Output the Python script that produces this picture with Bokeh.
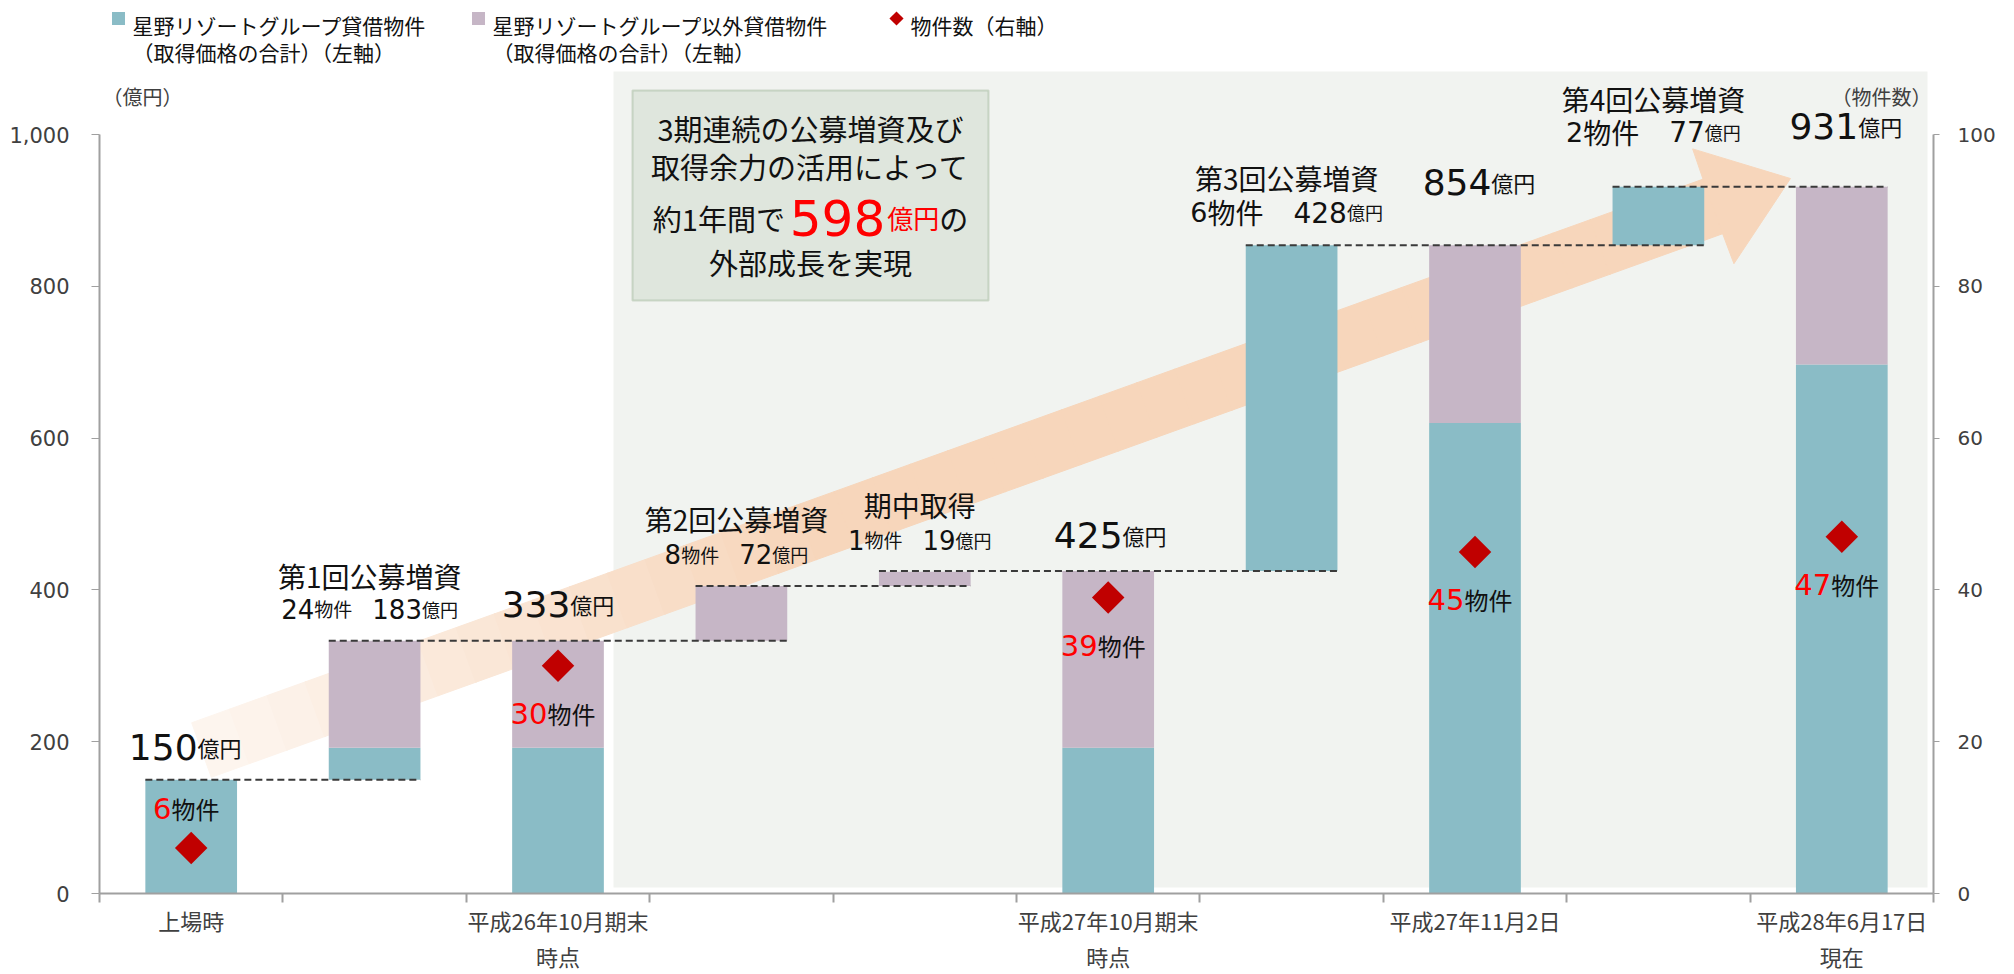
import math
from bokeh.plotting import figure
from bokeh.models import (Range1d, LinearAxis, FixedTicker, BoxAnnotation,
                          ColumnDataSource, NumeralTickFormatter)
from bokeh.embed import file_html
from bokeh.resources import INLINE

# ---------------- data ----------------
slot_label_line1 = ["上場時", "", "平成26年10月期末", "", "", "平成27年10月期末",
                    "", "平成27年11月2日", "", "平成28年6月17日"]
slot_label_line2 = ["", "", "時点", "", "", "時点", "", "", "", "現在"]
base_value = [0, 150, 0, 333, 405, 0, 425, 0, 854, 0]          # floating bar bottoms (億円)
hoshino_value = [150, 42, 192, 0, 0, 192, 429, 620, 77, 697]   # 星野リゾートグループ貸借物件
other_value = [0, 141, 141, 72, 19, 233, 0, 234, 0, 234]       # 星野リゾートグループ以外貸借物件
property_count = [6, None, 30, None, None, 39, None, 45, None, 47]  # 物件数 (右軸)
total_label = [150, None, 333, None, None, 425, None, 854, None, 931]

step_slot = [1, 3, 4, 6, 8]
step_title = ["第1回公募増資", "第2回公募増資", "期中取得", "第3回公募増資", "第4回公募増資"]
step_count = [24, 8, 1, 6, 2]
step_amount = [183, 72, 19, 428, 77]

connector_level = [150, 333, 405, 425, 854, 931]
connector_from = [0, 1, 3, 4, 6, 8]
connector_to = [1, 3, 4, 6, 8, 9]

left_ticks = [0, 200, 400, 600, 800, 1000]
right_ticks = [0, 20, 40, 60, 80, 100]
left_unit = "（億円）"
right_unit = "（物件数）"

legend_line1 = ["星野リゾートグループ貸借物件", "星野リゾートグループ以外貸借物件", "物件数（右軸）"]
legend_line2 = ["（取得価格の合計）（左軸）", "（取得価格の合計）（左軸）", ""]

# ---------------- layout / style ----------------
W, H = 2014, 974
BL, BR, BT, BB = 99, 81, 0, 81
FW, FH = W - BL - BR, H - BT - BB
LEFT_MAX, RIGHT_MAX = 1000, 100
NSLOT = len(slot_label_line1)
PXX = FW / NSLOT
TOP_TICK_PAGE_Y = 134
PXY = ((FH + BT) - TOP_TICK_PAGE_Y) / LEFT_MAX
Y_END = FH / PXY
CNT = LEFT_MAX / RIGHT_MAX
BAR_W = 0.5

TEAL = "#8ABCC6"
MAUVE = "#C6B6C6"
RED_MARK = "#C00000"
RED_TEXT = "#FF0000"
BLACK = "#111111"
AXIS_C = "#A0A0A0"
TICK_TXT = "#404040"
PEACH = (247, 214, 187)
CJK = "Noto Sans CJK JP"
LAT = "DejaVu Sans"


def page_to_data(px, py):
    return (px - BL) / PXX - 0.5, (FH - (py - BT)) / PXY


def text_width(t, font, size):
    w = 0.0
    for ch in t:
        if ch.isdigit():
            w += (0.636 if font == LAT else 0.55) * size
        elif ch in ",.":
            w += 0.32 * size
        elif ch == " ":
            w += 0.3 * size
        else:
            w += size
    return w


T = dict(x=[], y=[], text=[], font=[], size=[], color=[])


def put(x, y, t, font, size, color):
    T["x"].append(x); T["y"].append(y); T["text"].append(t)
    T["font"].append(font); T["size"].append(f"{size}px"); T["color"].append(color)


def add_run(xc, y, segs, dx_px=0.0, dy_px=0.0):
    widths = [text_width(s[0], s[1], s[2]) for s in segs]
    gaps = [s[4] if len(s) > 4 else 0 for s in segs]
    total = sum(widths) + sum(gaps[:-1])
    left = dx_px - total / 2
    for s, w, g in zip(segs, widths, gaps):
        put(xc + left / PXX, y + dy_px / PXY, s[0], s[1], s[2], s[3])
        left += w + g


p = figure(width=W, height=H, x_range=Range1d(-0.5, NSLOT - 0.5), y_range=Range1d(0, Y_END),
           output_backend="svg", toolbar_location=None,
           min_border_left=BL, min_border_right=BR, min_border_top=BT, min_border_bottom=BB,
           outline_line_color=None, background_fill_color="white", border_fill_color="white")
p.extra_y_ranges = {"cnt": Range1d(0, Y_END / CNT)}
p.xgrid.visible = False
p.ygrid.visible = False

# background panel and message box (decoration)
pl, pt_ = page_to_data(613, 71)
pr, pb = page_to_data(1927, FH + BT - 6)
p.add_layout(BoxAnnotation(left=pl, right=pr, top=pt_, bottom=pb, fill_color="#F1F3F0",
                           fill_alpha=1, line_color=None, level="underlay"))
bl_, bt_ = page_to_data(632, 90)
br_, bb_ = page_to_data(988, 300)
p.add_layout(BoxAnnotation(left=bl_, right=br_, top=bt_, bottom=bb_, fill_color="#DFE6DD",
                           fill_alpha=1, line_color="#7C9A70", line_width=2, level="underlay"))

# growth arrow (decoration)
ARROW_TAIL = (0.056, 189.0)
ARROW_TIP = (8.72, 942.0)
HALF, HEAD_LEN, HEAD_HALF = 29.0, 82.0, 61.0
tx, ty = ARROW_TAIL
vx, vy = (ARROW_TIP[0] - tx) * PXX, (ARROW_TIP[1] - ty) * PXY
L = math.hypot(vx, vy)
ux, uy = vx / L, vy / L
nx, ny = -uy, ux


def apt(a, b):
    return tx + (a * ux + b * nx) / PXX, ty + (a * uy + b * ny) / PXY


LS = L - HEAD_LEN
N = 40
xs, ys, cols = [], [], []
for i in range(N):
    a0 = LS * i / N
    a1 = min(LS, LS * (i + 1) / N + 0.8)
    t = (i + 0.5) / N
    al = min(1.0, 0.22 + 0.78 * t / 0.4)
    c = tuple(int(round(255 - al * (255 - k))) for k in PEACH)
    pts = [apt(a0, HALF), apt(a1, HALF), apt(a1, -HALF), apt(a0, -HALF)]
    xs.append([q[0] for q in pts]); ys.append([q[1] for q in pts])
    cols.append("#%02x%02x%02x" % c)
p.patches(xs=xs, ys=ys, fill_color=cols, line_color=cols, line_width=1)
head = [apt(LS - 0.5, HALF), apt(LS, HEAD_HALF), apt(L, 0), apt(LS, -HEAD_HALF), apt(LS - 0.5, -HALF)]
hc = "#%02x%02x%02x" % PEACH
p.patch(x=[q[0] for q in head], y=[q[1] for q in head], fill_color=hc, line_color=hc, line_width=1)

# stacked / floating bars
h_top = [b + h for b, h in zip(base_value, hoshino_value)]
o_top = [t + o for t, o in zip(h_top, other_value)]
src = ColumnDataSource(dict(x=list(range(NSLOT)), b=base_value, h_top=h_top, o_top=o_top))
p.vbar(x="x", width=BAR_W, bottom="b", top="h_top", fill_color=TEAL, line_color=None, source=src)
p.vbar(x="x", width=BAR_W, bottom="h_top", top="o_top", fill_color=MAUVE, line_color=None, source=src)

# dashed connectors
p.segment(x0=[f - BAR_W / 2 for f in connector_from], x1=[t + BAR_W / 2 for t in connector_to],
          y0=connector_level, y1=connector_level, line_color="#3A3A3A", line_width=2, line_dash="7 4")

# property counts (right axis)
cx = [i for i, c in enumerate(property_count) if c is not None]
cy = [c for c in property_count if c is not None]
p.scatter(x=cx, y=cy, y_range_name="cnt", marker="square", angle=math.pi / 4, size=23,
          fill_color=RED_MARK, line_color=None)

# ---------------- texts ----------------
total_dx = [-6, 0, 2, 4, 4]
total_lift = [33, 37, 36, 63, 61]
k = 0
for i, v in enumerate(total_label):
    if v is None:
        continue
    add_run(i, v, [(str(v), LAT, 36, BLACK), ("億円", CJK, 22, BLACK)], dx_px=total_dx[k], dy_px=total_lift[k])
    k += 1

count_lift = [39, -48, -48, -48, -48]
k = 0
for i, c in enumerate(property_count):
    if c is None:
        continue
    add_run(i, c * CNT, [(str(c), LAT, 29, RED_TEXT), ("物件", CJK, 24, BLACK)], dx_px=-5, dy_px=count_lift[k])
    k += 1

title_lift = [65, 67, 67, 67, 88]
detail_lift = [32, 32, 32, 33, 55]
big_detail = [False, False, False, True, True]
for k, s in enumerate(step_slot):
    top = o_top[s]
    add_run(s, top, [(step_title[k], CJK, 28, BLACK)], dx_px=-5, dy_px=title_lift[k])
    if big_detail[k]:
        segs = [(str(step_count[k]), LAT, 27, BLACK, 0), ("物件", CJK, 28, BLACK, 30),
                (str(step_amount[k]), LAT, 28, BLACK, 0), ("億円", CJK, 18, BLACK)]
    else:
        segs = [(str(step_count[k]), LAT, 26, BLACK, 0), ("物件", CJK, 19, BLACK, 20),
                (str(step_amount[k]), LAT, 26, BLACK, 0), ("億円", CJK, 18, BLACK)]
    add_run(s, top, segs, dx_px=-5, dy_px=detail_lift[k])

growth = total_label[9] - total_label[2]
bxc = (bl_ + br_) / 2
add_run(bxc, bt_, [("3期連続の公募増資及び", CJK, 29, BLACK)], dy_px=-37)
add_run(bxc, bt_, [("取得余力の活用によって", CJK, 29, BLACK)], dy_px=-75)
add_run(bxc, bt_, [("約1年間で", CJK, 29, BLACK, 5), (str(growth), LAT, 50, RED_TEXT, 2),
                   ("億円", CJK, 26, RED_TEXT, 0), ("の", CJK, 29, BLACK)], dy_px=-127)
add_run(bxc, bt_, [("外部成長を実現", CJK, 29, BLACK)], dy_px=-171)

# legend (manual, two-line labels)
leg_swatch_px = [118, 478, 896]
leg_text_px = [132, 492, 910]
leg_colors = [TEAL, MAUVE, RED_MARK]
sq = [page_to_data(x, 18) for x in leg_swatch_px[:2]]
p.scatter(x=[q[0] for q in sq], y=[q[1] for q in sq], marker="square", size=13,
          fill_color=leg_colors[:2], line_color=None)
dq = page_to_data(leg_swatch_px[2], 18)
p.scatter(x=[dq[0]], y=[dq[1]], marker="square", angle=math.pi / 4, size=10,
          fill_color=RED_MARK, line_color=None)
for j in range(3):
    x1, y1 = page_to_data(leg_text_px[j], 24)
    put(x1, y1, legend_line1[j], CJK, 21, BLACK)
    if legend_line2[j]:
        x2, y2 = page_to_data(leg_text_px[j], 51)
        put(x2, y2, legend_line2[j], CJK, 21, BLACK)

# axis unit labels (kept just inside the plot frame)
ulx, uly = page_to_data(102, 96)
put(ulx, uly, left_unit, CJK, 20, TICK_TXT)
urx, ury = page_to_data(1931 - text_width(right_unit, CJK, 20), 96)
put(urx, ury, right_unit, CJK, 20, TICK_TXT)

tsrc = ColumnDataSource(T)
p.text(x="x", y="y", text="text", text_font="font", text_font_size="size", text_color="color",
       text_align="left", text_baseline="alphabetic", source=tsrc)

# ---------------- axes ----------------
xa = p.xaxis[0]
xa.axis_label = None
xa.axis_label_standoff = 0
xa.ticker = FixedTicker(ticks=[i for i, l in enumerate(slot_label_line1) if l],
                        minor_ticks=[i - 0.5 for i in range(NSLOT + 1)])
xa.major_label_overrides = {i: l for i, l in enumerate(slot_label_line1) if l}
xa.major_tick_out = 0
xa.major_tick_in = 0
xa.minor_tick_out = 9
xa.minor_tick_in = 0
xa.minor_tick_line_color = AXIS_C
xa.minor_tick_line_width = 2
xa.axis_line_color = AXIS_C
xa.axis_line_width = 2
xa.major_label_text_font = CJK
xa.major_label_text_font_size = "22px"
xa.major_label_text_color = TICK_TXT
xa.major_label_text_line_height = 1.0
xa.major_label_standoff = 1

xa2 = LinearAxis(ticker=FixedTicker(ticks=[i for i, l in enumerate(slot_label_line2) if l]))
xa2.axis_label = None
xa2.axis_label_standoff = 0
xa2.major_label_overrides = {i: l for i, l in enumerate(slot_label_line2) if l}
xa2.axis_line_color = None
xa2.major_tick_line_color = None
xa2.minor_tick_line_color = None
xa2.major_tick_out = 0
xa2.major_tick_in = 0
xa2.minor_tick_out = 0
xa2.minor_tick_in = 0
xa2.major_label_text_font = CJK
xa2.major_label_text_font_size = "22px"
xa2.major_label_text_color = TICK_TXT
xa2.major_label_text_line_height = 1.0
xa2.major_label_standoff = 1
p.add_layout(xa2, "below")

ya = p.yaxis[0]
ya.ticker = FixedTicker(ticks=left_ticks)
ya.bounds = (0, LEFT_MAX)
ya.formatter = NumeralTickFormatter(format="0,0")
ya.major_tick_out = 8
ya.major_tick_in = 0
ya.minor_tick_out = 0
ya.minor_tick_in = 0
ya.axis_line_color = AXIS_C
ya.axis_line_width = 2
ya.major_tick_line_color = AXIS_C
ya.major_tick_line_width = 1
ya.major_label_text_font = LAT
ya.major_label_text_font_size = "21px"
ya.major_label_text_color = TICK_TXT
ya.major_label_standoff = 22

ra = LinearAxis(y_range_name="cnt", ticker=FixedTicker(ticks=right_ticks), bounds=(0, RIGHT_MAX))
ra.major_tick_out = 6
ra.major_tick_in = 0
ra.minor_tick_out = 0
ra.minor_tick_in = 0
ra.axis_line_color = AXIS_C
ra.axis_line_width = 2
ra.major_tick_line_color = AXIS_C
ra.major_label_text_font = LAT
ra.major_label_text_font_size = "20px"
ra.major_label_text_color = TICK_TXT
ra.major_label_standoff = 18
p.add_layout(ra, "right")

open("out.html", "w").write(file_html(p, INLINE))
